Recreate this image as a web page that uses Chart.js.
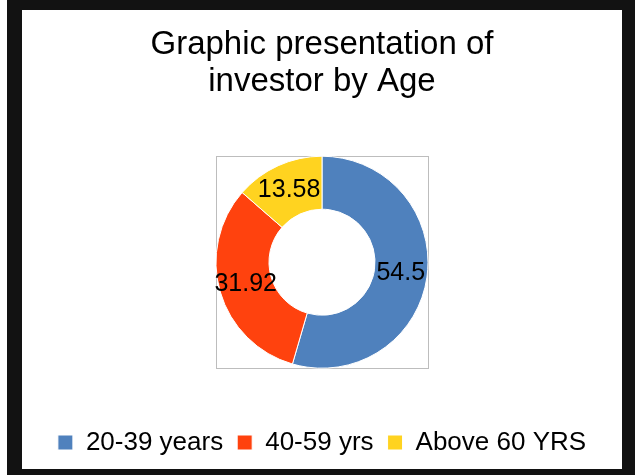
<!DOCTYPE html>
<html>
<head>
<meta charset="utf-8">
<script src="https://cdn.jsdelivr.net/npm/chart.js@4"></script>
<style>
    html, body { margin: 0; padding: 0; background: #fff; }
    #frame {
        position: absolute; left: 7px; top: 0;
        width: 600px; height: 459px;
        border-style: solid; border-color: #121212;
        border-width: 10px 13px 6px 15px;
        background: #fff;
    }
    #ageChart { display: block; }
</style>
</head>
<body>
<div id="frame"><canvas id="ageChart" width="600" height="459"></canvas></div>
<script>
const titleLines = ["Graphic presentation of", "investor by Age"];
const ageGroups = ["20-39 years", "40-59 yrs", "Above 60 YRS"];
const shares = [54.5, 31.92, 13.58];
const sliceColors = ["#4F81BD", "#FF420E", "#FFD320"];

const FONT = "'Liberation Sans', Arial, sans-serif";

// grey square frame around the ring (the old plot-area border)
const plotBox = {
    id: "plotBox",
    beforeDatasetsDraw(chart) {
        const arc = chart.getDatasetMeta(0).data[0];
        if (!arc) return;
        const r = arc.outerRadius;
        const ctx = chart.ctx;
        ctx.save();
        ctx.strokeStyle = "#BDBDBD";
        ctx.lineWidth = 1;
        ctx.strokeRect(Math.round(arc.x - r) + 0.5, Math.round(arc.y - r) + 0.5,
                       Math.round(2 * r), Math.round(2 * r));
        ctx.restore();
    }
};

// value labels sitting in the middle of each slice
const sliceLabels = {
    id: "sliceLabels",
    afterDatasetsDraw(chart) {
        const ctx = chart.ctx;
        const meta = chart.getDatasetMeta(0);
        ctx.save();
        ctx.font = "25px " + FONT;
        ctx.fillStyle = "#000";
        ctx.textAlign = "center";
        ctx.textBaseline = "middle";
        meta.data.forEach((arc, i) => {
            const pos = arc.tooltipPosition();
            ctx.fillText(String(shares[i]), pos.x, pos.y);
        });
        ctx.restore();
    }
};

new Chart(document.getElementById("ageChart"), {
    type: "doughnut",
    data: {
        labels: ageGroups,
        datasets: [{
            data: shares,
            backgroundColor: sliceColors,
            borderColor: "#ffffff",
            borderWidth: 1
        }]
    },
    options: {
        responsive: false,
        animation: false,
        radius: 106,
        cutout: "50%",
        layout: { padding: { bottom: 3.5 } },
        plugins: {
            title: {
                display: true,
                text: titleLines,
                color: "#000",
                font: { family: FONT, size: 33, weight: "normal", lineHeight: 1.12 },
                padding: { top: 16.5, bottom: 8.5 }
            },
            legend: {
                position: "bottom",
                labels: {
                    color: "#000",
                    font: { family: FONT, size: 26 },
                    boxWidth: 15,
                    boxHeight: 15,
                    padding: 14
                }
            },
            tooltip: { enabled: false }
        }
    },
    plugins: [plotBox, sliceLabels]
});
</script>
</body>
</html>
